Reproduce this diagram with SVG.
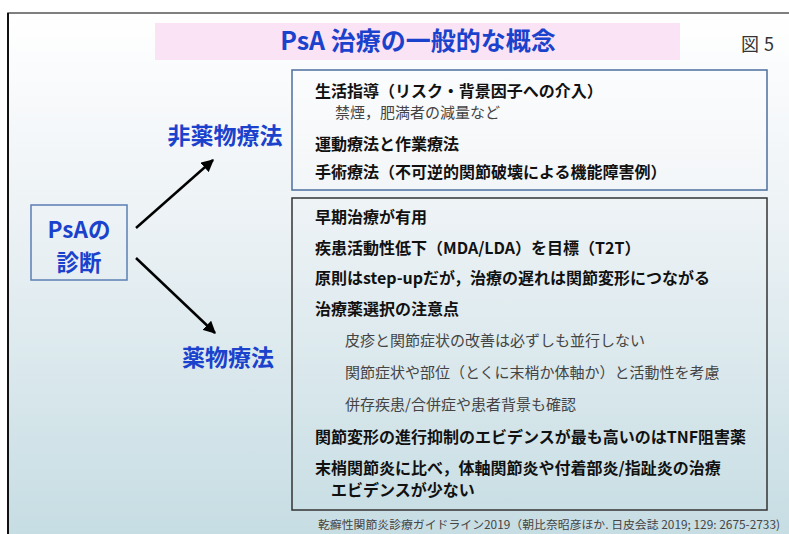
<svg xmlns="http://www.w3.org/2000/svg" width="789" height="534" viewBox="0 0 789 534">
<defs>
<linearGradient id="bg" x1="0" y1="0" x2="0" y2="1">
<stop offset="0" stop-color="#ffffff"/>
<stop offset="0.35" stop-color="#eef3f6"/>
<stop offset="1" stop-color="#c4dce2"/>
</linearGradient>
<linearGradient id="ub" x1="0" y1="0" x2="0" y2="1">
<stop offset="0" stop-color="#fbfcfd"/>
<stop offset="1" stop-color="#f3f6f8"/>
</linearGradient>
<marker id="ah" viewBox="0 0 10 10" refX="9" refY="5" markerWidth="5" markerHeight="5" orient="auto" markerUnits="strokeWidth">
<path d="M0,0 L10,5 L0,10 z" fill="#000"/>
</marker>
<style>
.jp{font-family:"Noto Sans CJK JP","Noto Sans",sans-serif;}
.b{font-weight:bold;font-size:16px;fill:#111;}
.n{font-size:15px;fill:#444;}
.blue{font-weight:bold;fill:#1a42cc;}
.conn{stroke:#000;stroke-width:2.5;fill:none;marker-end:url(#ah);}
</style>
</defs>
<rect x="0" y="0" width="789" height="534" fill="#ffffff"/>
<rect x="8" y="13" width="800" height="540" fill="url(#bg)" stroke="#555" stroke-width="1.5"/>
<line x1="8" y1="13" x2="8" y2="534" stroke="#111" stroke-width="2"/>

<g id="title">
<rect x="155" y="23" width="525" height="37" fill="#fae3f4"/>
<text class="jp blue" x="418" y="50" font-size="25" text-anchor="middle">PsA 治療の一般的な概念</text>
</g>
<g id="fig">
<text class="jp" x="741" y="51" font-size="18" fill="#333">図<tspan dx="5">5</tspan></text>
</g>

<g id="psa">
<rect x="31" y="205" width="96" height="75" fill="none" stroke="#5b7fb5" stroke-width="1.5"/>
<text class="jp blue" x="79" y="238" font-size="22.5" text-anchor="middle">PsAの</text>
<text class="jp blue" x="79" y="271" font-size="22.5" text-anchor="middle">診断</text>
</g>

<g id="nonpharm-label">
<text class="jp blue" x="225" y="144" font-size="23" text-anchor="middle">非薬物療法</text>
</g>
<g id="pharm-label">
<text class="jp blue" x="228" y="366" font-size="23" text-anchor="middle">薬物療法</text>
</g>

<g id="connectors">
<line class="conn" x1="136" y1="228" x2="213" y2="160"/>
<line class="conn" x1="136" y1="258" x2="215" y2="333"/>
</g>

<g id="nonpharm-box">
<rect x="292" y="70" width="475" height="120" fill="url(#ub)" stroke="#4d6f9e" stroke-width="1.5"/>
<text class="jp b" x="315" y="97">生活指導（リスク・背景因子への介入）</text>
<text class="jp n" x="335" y="118" font-size="15.5">禁煙，肥満者の減量など</text>
<text class="jp b" x="315" y="150">運動療法と作業療法</text>
<text class="jp b" x="315" y="178">手術療法（不可逆的関節破壊による機能障害例）</text>
</g>

<g id="pharm-box">
<rect x="292" y="198" width="475" height="312" fill="none" stroke="#333" stroke-width="1.5"/>
<text class="jp b" x="315" y="223">早期治療が有用</text>
<text class="jp b" x="315" y="254">疾患活動性低下（MDA/LDA）を目標（T2T）</text>
<text class="jp b" x="315" y="284">原則はstep-upだが，治療の遅れは関節変形につながる</text>
<text class="jp b" x="315" y="315">治療薬選択の注意点</text>
<text class="jp n" x="345" y="346">皮疹と関節症状の改善は必ずしも並行しない</text>
<text class="jp n" x="345" y="378">関節症状や部位（とくに末梢か体軸か）と活動性を考慮</text>
<text class="jp n" x="345" y="410">併存疾患/合併症や患者背景も確認</text>
<text class="jp b" x="315" y="443">関節変形の進行抑制のエビデンスが最も高いのはTNF阻害薬</text>
<text class="jp b" x="315" y="474">末梢関節炎に比べ，体軸関節炎や付着部炎/指趾炎の治療</text>
<text class="jp b" x="331" y="496">エビデンスが少ない</text>
</g>

<g id="footer">
<text class="jp" x="318" y="529" font-size="11.5" fill="#444" textLength="462" lengthAdjust="spacingAndGlyphs">乾癬性関節炎診療ガイドライン2019（朝比奈昭彦ほか. 日皮会誌 2019; 129: 2675-2733)</text>
</g>
</svg>
